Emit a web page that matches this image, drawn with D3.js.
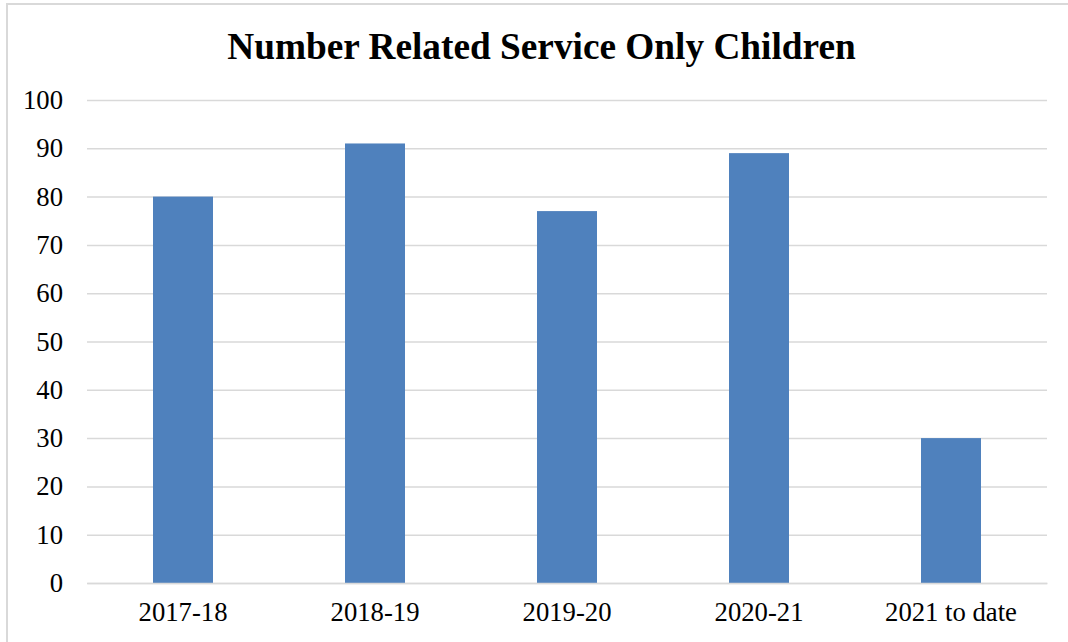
<!DOCTYPE html>
<html>
<head>
<meta charset="utf-8">
<script src="https://cdn.jsdelivr.net/npm/d3@7"></script>
<style>
  html, body { margin: 0; padding: 0; background: #fff; }
  svg { display: block; }
  text { font-family: "Liberation Serif", "Times New Roman", serif; fill: #000; }
</style>
</head>
<body>
<svg id="chart" width="1068" height="642"></svg>
<script>
// Data
const categories = ["2017-18", "2018-19", "2019-20", "2020-21", "2021 to date"];
const values = [80, 91, 77, 89, 30];
const yTicks = [0, 10, 20, 30, 40, 50, 60, 70, 80, 90, 100];
const title = "Number Related Service Only Children";

const svg = d3.select("#chart");
const W = 1068, H = 642;
const plot = { left: 87, right: 1047, top: 100, bottom: 583 };

// Chart area frame
svg.append("rect")
  .attr("x", 7).attr("y", 4)
  .attr("width", W + 20).attr("height", H + 20)
  .attr("fill", "#fff")
  .attr("stroke", "#d9d9d9")
  .attr("stroke-width", 2);

// Title
svg.append("text")
  .attr("x", 541.5).attr("y", 59)
  .attr("text-anchor", "middle")
  .style("font-size", "37.3px")
  .style("font-weight", "bold")
  .text(title);

const x = d3.scaleBand()
  .domain(categories)
  .range([plot.left, plot.right])
  .paddingInner(0.6875)
  .paddingOuter(0.34375);

const y = d3.scaleLinear()
  .domain([0, 100])
  .range([plot.bottom, plot.top]);

// Gridlines + y tick labels
const yAxis = d3.axisLeft(y)
  .tickValues(yTicks)
  .tickSize(-(plot.right - plot.left))
  .tickPadding(24)
  .tickFormat(d3.format("d"));

const gy = svg.append("g")
  .attr("transform", `translate(${plot.left},0)`)
  .call(yAxis);
gy.select(".domain").remove();
gy.selectAll(".tick line")
  .attr("stroke", "#d9d9d9")
  .attr("stroke-width", 1.5);
gy.selectAll(".tick text")
  .style("font-family", "'Liberation Serif', 'Times New Roman', serif")
  .style("font-size", "26.7px")
  .attr("fill", "#000");

// Bars
svg.append("g")
  .selectAll("rect")
  .data(values)
  .join("rect")
  .attr("x", (d, i) => x(categories[i]))
  .attr("width", x.bandwidth())
  .attr("y", d => y(d))
  .attr("height", d => y(0) - y(d))
  .attr("fill", "#4f81bd");

// Category axis
const xAxis = d3.axisBottom(x).tickSize(0).tickPadding(19);
const gx = svg.append("g")
  .attr("transform", `translate(0,${plot.bottom})`)
  .call(xAxis);
gx.select(".domain")
  .attr("stroke", "#d9d9d9")
  .attr("stroke-width", 1.5);
gx.selectAll(".tick text")
  .style("font-family", "'Liberation Serif', 'Times New Roman', serif")
  .style("font-size", "26.7px")
  .attr("fill", "#000");
</script>
</body>
</html>
